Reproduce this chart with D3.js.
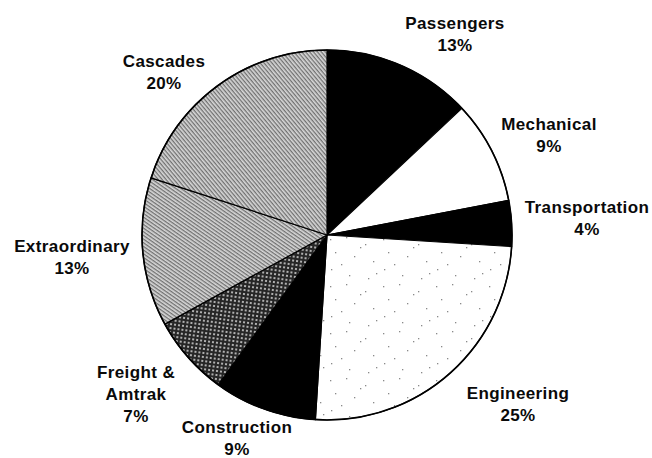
<!DOCTYPE html>
<html lang="en">
<head>
    <meta charset="UTF-8">
    <title>Pie chart</title>
    <script src="https://d3js.org/d3.v7.min.js"></script>
    <style>
        body {
            margin: 0;
            background: #fff;
        }
        svg {
            display: block;
        }
        .label {
            font-family: "Liberation Sans", Arial, sans-serif;
            font-weight: bold;
            font-size: 17px;
            letter-spacing: 0.4px;
            fill: #0a0a0a;
        }
    </style>
</head>
<body>
    <svg width="652" height="458"></svg>

    <script>
        // Slice data, clockwise from 12 o'clock
        const categories = ["Passengers", "Mechanical", "Transportation", "Engineering",
                            "Construction", "Freight & Amtrak", "Extraordinary", "Cascades"];
        const shares = [13, 9, 4, 25, 9, 7, 13, 20];
        const fills = ["solid", "white", "solid", "stipple", "solid", "crosshatch", "hatchA", "hatchB"];

        // Label lines and their placement (center x, first baseline y)
        const labelLines = [
            ["Passengers", "13%"],
            ["Mechanical", "9%"],
            ["Transportation", "4%"],
            ["Engineering", "25%"],
            ["Construction", "9%"],
            ["Freight &", "Amtrak", "7%"],
            ["Extraordinary", "13%"],
            ["Cascades", "20%"]
        ];
        const labelPos = [
            [455, 29], [549, 130], [587, 213], [518, 399],
            [237, 433], [136, 378], [72, 252], [164, 67]
        ];

        const svg = d3.select("svg");
        const cx = 327, cy = 235, radius = 185;

        // Patterns
        const defs = svg.append("defs");

        // sparse dots for Engineering
        const stip = defs.append("pattern")
            .attr("id", "stipple")
            .attr("patternUnits", "userSpaceOnUse")
            .attr("width", 53).attr("height", 47);
        stip.append("rect").attr("width", 53).attr("height", 47).attr("fill", "#fff");
        const dots = [[3, 4], [19, 2], [38, 9], [8, 17], [27, 21], [46, 26], [4, 34], [22, 40], [41, 43], [14, 29], [33, 12], [49, 38]];
        stip.selectAll("rect.d").data(dots).enter().append("rect")
            .attr("class", "d")
            .attr("x", d => d[0]).attr("y", d => d[1])
            .attr("width", 1.3).attr("height", 1.3)
            .attr("fill", "#8a8a8a");

        // dark crosshatch for Freight & Amtrak
        const cross = defs.append("pattern")
            .attr("id", "crosshatch")
            .attr("patternUnits", "userSpaceOnUse")
            .attr("width", 4).attr("height", 4)
            .attr("patternTransform", "rotate(8)");
        cross.append("rect").attr("width", 4).attr("height", 4).attr("fill", "#262626");
        cross.append("rect").attr("x", 1).attr("y", 1).attr("width", 2).attr("height", 2).attr("fill", "#b0b0b0");

        // diagonal gray hatching
        function hatch(id, angle) {
            const p = defs.append("pattern")
                .attr("id", id)
                .attr("patternUnits", "userSpaceOnUse")
                .attr("width", 3).attr("height", 3)
                .attr("patternTransform", `rotate(${angle})`);
            p.append("rect").attr("width", 3).attr("height", 3).attr("fill", "#d8d8d8");
            p.append("rect").attr("width", 3).attr("height", 1.3).attr("fill", "#707070");
        }
        hatch("hatchA", 35);
        hatch("hatchB", 50);

        const fillFor = f => f === "solid" ? "#000" : f === "white" ? "#fff" : `url(#${f})`;

        const pie = d3.pie().sort(null).value(d => d);
        const arcs = pie(shares);
        const arc = d3.arc().innerRadius(0).outerRadius(radius);

        const g = svg.append("g").attr("transform", `translate(${cx},${cy})`);

        g.selectAll("path.slice")
            .data(arcs)
            .enter().append("path")
            .attr("class", "slice")
            .attr("d", arc)
            .attr("fill", (d, i) => fillFor(fills[i]))
            .attr("stroke", "#000")
            .attr("stroke-width", 1.2)
            .attr("stroke-linejoin", "round");

        g.append("circle")
            .attr("r", radius)
            .attr("fill", "none")
            .attr("stroke", "#000")
            .attr("stroke-width", 1.6);

        // Labels
        const lab = svg.append("g");
        labelLines.forEach((lines, i) => {
            const t = lab.append("text")
                .attr("class", "label")
                .attr("text-anchor", "middle")
                .attr("x", labelPos[i][0])
                .attr("y", labelPos[i][1]);
            lines.forEach((s, j) => {
                t.append("tspan")
                    .attr("x", labelPos[i][0])
                    .attr("dy", j === 0 ? 0 : 22)
                    .text(s);
            });
        });
    </script>
</body>
</html>
